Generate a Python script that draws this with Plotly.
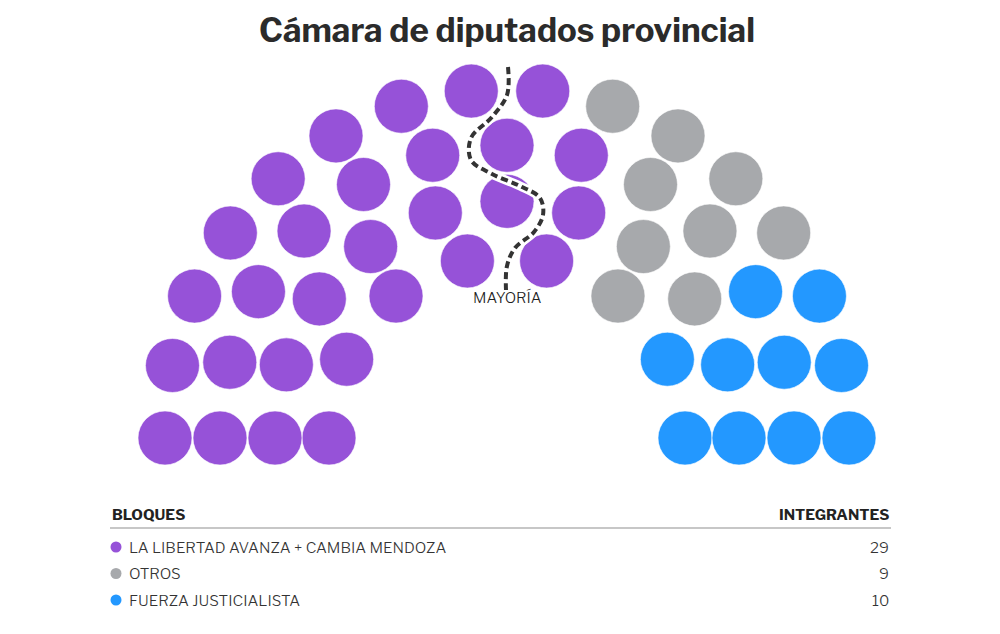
import plotly.graph_objects as go
import numpy as np

# bloques y bancas
parties = ["LA LIBERTAD AVANZA + CAMBIA MENDOZA", "OTROS", "FUERZA JUSTICIALISTA"]
seats = [29, 9, 10]
colors = ["#9652d8", "#a7a9ac", "#2398ff"]

# hemiciclo: bancas por fila (interior -> exterior)
row_seats = [8, 11, 13, 16]
row_radius = [178, 232, 287, 342]
cx, cy, ky = 507, 438, 1.02

xs, ys, angs, rads = [], [], [], []
for n, r in zip(row_seats, row_radius):
    for i in range(n):
        a = np.pi * (1 - i / (n - 1))
        xs.append(cx + r * np.cos(a))
        ys.append(cy - ky * r * np.sin(a))
        angs.append(round(a, 6))
        rads.append(r)

# ordenar de izquierda a derecha y repartir por bloque
order = sorted(range(len(xs)), key=lambda k: (-angs[k], rads[k]))
owner = {}
pos = 0
for p, s in enumerate(seats):
    for k in order[pos:pos + s]:
        owner[k] = p
    pos += s

fig = go.Figure()
for p, name in enumerate(parties):
    idx = [k for k in range(len(xs)) if owner[k] == p]
    fig.add_trace(go.Scatter(
        x=[xs[k] for k in idx], y=[ys[k] for k in idx], mode="markers",
        marker=dict(size=54, color=colors[p], line=dict(color="rgba(255,255,255,0.6)", width=1)),
        name=name, hoverinfo="name"))

# linea de mayoria
mx = [508, 507, 492, 471, 471, 492, 520, 540, 543, 534, 515, 507, 506]
my = [67, 95, 117, 138, 160, 174, 186, 198, 215, 232, 248, 266, 290]
fig.add_trace(go.Scatter(x=mx, y=my, mode="lines", line=dict(color="white", width=9, shape="spline"),
                         hoverinfo="skip"))
fig.add_trace(go.Scatter(x=mx, y=my, mode="lines",
                         line=dict(color="#333333", width=4, shape="spline", dash="7px,4px"),
                         hoverinfo="skip"))

font_main = "Libre Franklin, Inter, sans-serif"
ann = [
    dict(x=507, y=30, text="<b>Cámara de diputados provincial</b>", showarrow=False,
         font=dict(size=33, color="#2b2b2b")),
    dict(x=507, y=297, text="MAYORÍA", showarrow=False,
         font=dict(size=15, color="#222", weight=300)),
]

# tabla de bloques
ann.append(dict(x=110, y=515, text="<b>BLOQUES</b>", xanchor="left", showarrow=False,
                font=dict(size=15, color="#222")))
ann.append(dict(x=891, y=515, text="<b>INTEGRANTES</b>", xanchor="right", showarrow=False,
                font=dict(size=15, color="#222")))
row_y = [547 + 26.5 * i for i in range(len(parties))]
for p, name in enumerate(parties):
    ann.append(dict(x=127, y=row_y[p], text=name, xanchor="left", showarrow=False,
                    font=dict(size=15.2, color="#333", weight=300)))
    ann.append(dict(x=891, y=row_y[p], text=str(seats[p]), xanchor="right", showarrow=False,
                    font=dict(size=15.2, color="#333", weight=300)))
fig.add_trace(go.Scatter(x=[116] * len(parties), y=row_y, mode="markers",
                         marker=dict(size=11, color=colors), hoverinfo="skip"))

# la pagina tiene 8px de margen en el body
fig.update_layout(
    width=992, height=626, margin=dict(l=0, r=0, t=0, b=0),
    paper_bgcolor="white", plot_bgcolor="white", showlegend=False,
    font=dict(family=font_main, color="#333"),
    xaxis=dict(range=[8, 1000], visible=False, fixedrange=True),
    yaxis=dict(range=[634, 8], visible=False, fixedrange=True),
    annotations=ann,
    shapes=[dict(type="line", x0=110, x1=891, y0=528, y1=528, line=dict(color="#b5b5b5", width=1.5))],
)
fig.write_html("out.html")
